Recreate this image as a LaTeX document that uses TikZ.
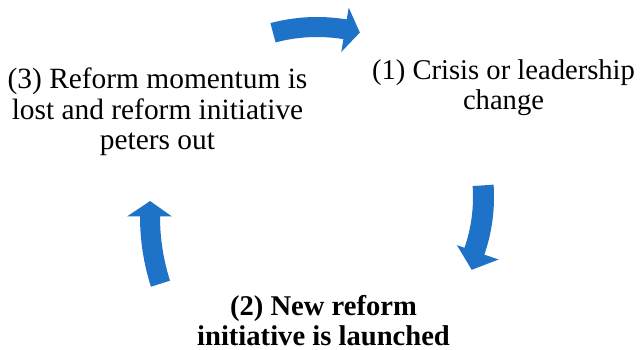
\documentclass[tikz,border=0pt]{standalone}
\usepackage{fontspec}
\setmainfont{Liberation Serif}
\definecolor{arrowblue}{RGB}{30,115,200}
\tikzset{
  label text/.style={align=center, inner sep=0pt, font=\fontsize{28.6}{30}\selectfont},
}
% #1 center, #2 tail angle, #3 head base angle, #4 tip angle,
% #5 r inner, #6 r outer, #7 head r inner, #8 head r outer, #9 tip r
\newcommand{\curvedarrow}[9]{%
  \begin{scope}[shift={#1}]
    \fill[arrowblue] (#2:#6) arc[start angle=#2, end angle=#3, radius=#6]
      -- (#3:#8) -- (#4:#9) -- (#3:#7) -- (#3:#5)
      arc[start angle=#3, end angle=#2, radius=#5] -- cycle;
  \end{scope}}
\begin{document}
\begin{tikzpicture}[x=1pt,y=1pt]
\useasboundingbox (0,0) rectangle (642,350);
% arrows
\curvedarrow{(317,153)}{105}{80.5}{75.4}{160}{180}{147}{192}{170}
\curvedarrow{(317,153)}{4}{-19}{-25.2}{156}{177}{148}{192}{171}
\curvedarrow{(371,133.5)}{197.7}{180}{176}{211}{231}{199}{244}{221.5}
% texts
\node[label text] (crisis) at (503.5,262) {(1) Crisis or leadership\\change};
\node[label text, font=\fontsize{28.6}{30}\selectfont\bfseries] (launch) at (323.5,29) {(2) New reform\\initiative is launched};
\node[label text, font=\fontsize{29.4}{30.5}\selectfont] (lost) at (157.5,238) {(3) Reform momentum is\\lost and reform initiative\\peters out};
\end{tikzpicture}
\end{document}
